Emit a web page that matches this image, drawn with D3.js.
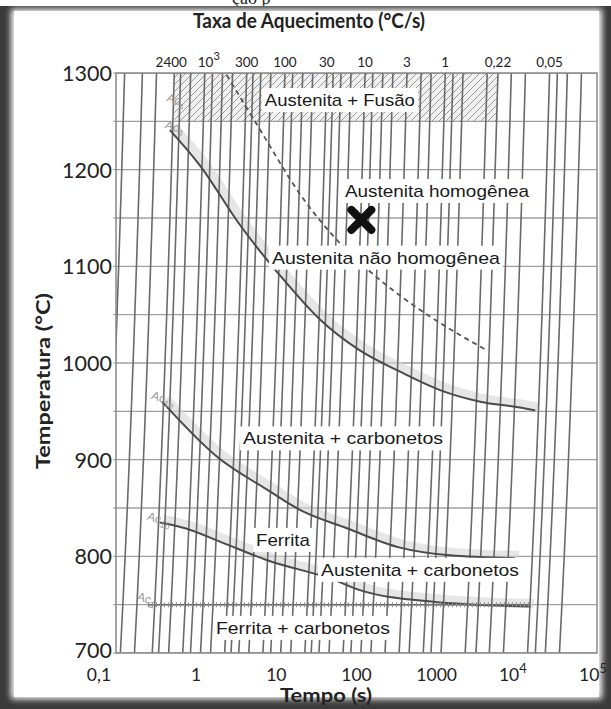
<!DOCTYPE html>
<html><head><meta charset="utf-8">
<script src="https://cdn.jsdelivr.net/npm/d3@7"></script>
<style>body{margin:0;background:#fff}svg{display:block}</style>
</head><body>
<script>
// ---------- data ----------
const yTicks = [700, 800, 900, 1000, 1100, 1200, 1300];
const yGrid = [700, 750, 800, 850, 900, 950, 1000, 1050, 1100, 1150, 1200, 1250, 1300];
const xTicks = [0.1, 1, 10, 100, 1000, 1e4, 1e5];
const xTickLabels = [["0,1", ""], ["1", ""], ["10", ""], ["100", ""], ["1000", ""], ["10", "4"], ["10", "5"]];
const topRates = [2400, 1000, 300, 100, 30, 10, 3, 1, 0.22, 0.05];
const topLabels = [["2400", ""], ["10", "3"], ["300", ""], ["100", ""], ["30", ""], ["10", ""], ["3", ""], ["1", ""], ["0,22", ""], ["0,05", ""]];
const heatingRates = [10000, 6000, 4000, 2400, 2000, 1500, 1000, 800, 600, 450, 300, 250, 200, 150, 100, 80, 60, 45, 30,
  25, 20, 15, 10, 8, 6, 4.5, 3, 2, 1.5, 1, 0.8, 0.6, 0.3, 0.22, 0.15, 0.1, 0.05, 0.04, 0.03, 0.02];
const startTemp = 20;
const fusionRates = [2400, 0.22];
const fusionTemps = [1250, 1300];
// curves: [time s, temperature C]
const acHomog = [[2.4, 1298], [6.3, 1241], [20, 1174], [62, 1124], [196, 1086], [620, 1055], [1950, 1029], [4250, 1013]];
const ac3 = [[0.47, 1241], [1.1, 1205], [3.5, 1143], [11, 1091], [35, 1045], [110, 1013], [350, 991], [1100, 972], [3500, 960], [11000, 954], [17000, 951]];
const ac1e = [[0.375, 960], [1.82, 903], [7.65, 869], [19.7, 848], [76, 829], [349, 809], [1466, 801], [9490, 798]];
const ac1b = [[0.35, 835], [0.73, 829], [2, 815], [7.7, 796], [51, 776], [110, 765], [900, 753], [14600, 748]];
const ac2 = [[0.25, 750], [14600, 750]];
const marker = [115, 1148];
const regionLabels = [
  {text: "Austenita + Fusão", t: 62, T: 1272, w: 150},
  {text: "Austenita homogênea", t: 1009, T: 1178, w: 184},
  {text: "Austenita não homogênea", t: 233, T: 1109, w: 228},
  {text: "Austenita + carbonetos", t: 68, T: 922, w: 200},
  {text: "Ferrita", t: 12.1, T: 817, w: 54},
  {text: "Austenita + carbonetos", t: 620, T: 786, w: 198},
  {text: "Ferrita + carbonetos", t: 21.5, T: 726, w: 174}
];
const acLabels = [
  {main: "Ac", sub: "s", t: 0.42, T: 1271},
  {main: "Ac", sub: "3", t: 0.40, T: 1243},
  {main: "Ac", sub: "1e", t: 0.27, T: 963},
  {main: "Ac", sub: "1b", t: 0.24, T: 838},
  {main: "Ac", sub: "2", t: 0.18, T: 755}
];

// ---------- layout ----------
const W = 611, H = 709;
const L = 116, R = 597, T0 = 73, B = 653;
const svg = d3.select("body").append("svg").attr("width", W).attr("height", H);
const defs = svg.append("defs");
const x = d3.scaleLog().domain([0.1, 1e5]).range([L, R]);
const y = d3.scaleLinear().domain([700, 1300]).range([B, T0]);

// frame
const blur = defs.append("filter").attr("id", "blur").attr("x", "-5%").attr("y", "-5%").attr("width", "110%").attr("height", "110%");
blur.append("feGaussianBlur").attr("stdDeviation", 3);
svg.append("text").attr("x", 232).attr("y", 4).attr("font-family", "Liberation Serif").attr("font-size", 18).attr("fill", "#222").text("ção p");
svg.append("rect").attr("x", 0).attr("y", 6).attr("width", W).attr("height", H - 6).attr("fill", "#3a3a3a");
svg.append("rect").attr("x", 11).attr("y", 9).attr("width", W - 20).attr("height", H - 19).attr("fill", "#fff").attr("filter", "url(#blur)");
svg.append("rect").attr("x", 14).attr("y", 11).attr("width", W - 26).attr("height", H - 23).attr("fill", "#fff");

// clip
defs.append("clipPath").attr("id", "clip").append("rect").attr("x", L).attr("y", T0).attr("width", R - L).attr("height", B - T0);
const plot = svg.append("g").attr("clip-path", "url(#clip)");

// hatch pattern
const pat = defs.append("pattern").attr("id", "hatch").attr("patternUnits", "userSpaceOnUse").attr("width", 7).attr("height", 7);
pat.append("rect").attr("width", 7).attr("height", 7).attr("fill", "#f1f1f1");
pat.append("path").attr("d", "M-1,8 L8,-1 M-1,1 L1,-1 M6,8 L8,6").attr("stroke", "#9a9a9a").attr("stroke-width", 1);
const tAt = (r, T) => (T - startTemp) / r;
plot.append("rect")
  .attr("x", x(tAt(fusionRates[0], fusionTemps[1])))
  .attr("y", y(fusionTemps[1]))
  .attr("width", x(tAt(fusionRates[1], fusionTemps[1])) - x(tAt(fusionRates[0], fusionTemps[1])))
  .attr("height", y(fusionTemps[0]) - y(fusionTemps[1]))
  .attr("fill", "url(#hatch)");

// horizontal grid
plot.selectAll(".hg").data(yGrid).join("line")
  .attr("x1", L).attr("x2", R).attr("y1", d => y(d)).attr("y2", d => y(d))
  .attr("stroke", "#a0a0a0").attr("stroke-width", 1.3);
svg.selectAll(".yt").data(yGrid).join("line")
  .attr("x1", L - 3).attr("x2", L).attr("y1", d => y(d)).attr("y2", d => y(d))
  .attr("stroke", "#999").attr("stroke-width", 1);

const line = d3.line().x(d => x(d[0])).y(d => y(d[1])).curve(d3.curveMonotoneX);

// scatter bands
[ac3, ac1e, ac1b].forEach(c => {
  plot.append("path").attr("d", line(c)).attr("fill", "none")
    .attr("stroke", "#d6d6d6").attr("stroke-width", 9).attr("opacity", 0.6)
    .attr("transform", "translate(4,-3)");
});

// heating-rate lines
const rateLine = d3.line().x(d => x(d[0])).y(d => y(d[1]));
plot.selectAll(".hr").data(heatingRates).join("path")
  .attr("d", r => rateLine(yGrid.map(T => [tAt(r, T), T])))
  .attr("fill", "none").attr("stroke", "#6a6a6a").attr("stroke-width", 1.6);

// curves
plot.append("path").attr("d", line(acHomog)).attr("fill", "none").attr("stroke", "#555").attr("stroke-width", 1.8).attr("stroke-dasharray", "5,4");
[ac3, ac1e, ac1b].forEach(c => plot.append("path").attr("d", line(c)).attr("fill", "none").attr("stroke", "#4a4a4a").attr("stroke-width", 2));
plot.append("path").attr("d", line(ac2)).attr("fill", "none").attr("stroke", "#666").attr("stroke-width", 1.5);
plot.append("path").attr("d", line(ac2)).attr("fill", "none").attr("stroke", "#8a8a8a").attr("stroke-width", 5).attr("stroke-dasharray", "1,3");

// plot border
svg.append("rect").attr("x", L).attr("y", T0).attr("width", R - L).attr("height", B - T0)
  .attr("fill", "none").attr("stroke", "#888").attr("stroke-width", 1.5);

// Ac labels
acLabels.forEach(a => {
  const t = svg.append("text").attr("transform", `translate(${x(a.t)},${y(a.T)}) rotate(18)`)
    .attr("font-family", "Liberation Sans").attr("font-size", 12).attr("fill", "#999");
  t.append("tspan").text(a.main);
  t.append("tspan").attr("font-size", 9).attr("dy", 3).text(a.sub);
});

// region labels
regionLabels.forEach(r => {
  const cx = x(r.t), cy = y(r.T);
  svg.append("rect").attr("x", cx - r.w / 2 - 3).attr("y", cy - 12).attr("width", r.w + 6).attr("height", 24).attr("fill", "#fff");
  svg.append("text").attr("x", cx).attr("y", cy + 6).attr("text-anchor", "middle")
    .attr("font-family", "Liberation Sans").attr("font-size", 17).attr("fill", "#1a1a1a")
    .attr("textLength", r.w).attr("lengthAdjust", "spacingAndGlyphs").text(r.text);
});

// marker
const mx = x(marker[0]), my = y(marker[1]);
svg.append("path").attr("d", `M${mx - 10},${my - 10}L${mx + 10},${my + 10}M${mx + 10},${my - 10}L${mx - 10},${my + 10}`)
  .attr("stroke", "#111").attr("stroke-width", 8).attr("stroke-linecap", "round");

// y tick labels
svg.selectAll(".yl").data(yTicks).join("text")
  .attr("x", L - 4).attr("y", d => y(d) + (d === 700 ? 5 : 8)).attr("text-anchor", "end")
  .attr("font-family", "Lato").attr("font-size", 21.5).attr("fill", "#222").text(d => d);

// x tick labels
xTicks.forEach((v, i) => {
  const [base, sup] = xTickLabels[i];
  const t = svg.append("text").attr("x", x(v) + (i === 0 ? -17 : (sup ? -4 : 0))).attr("y", 681)
    .attr("text-anchor", "middle").attr("font-family", "Lato").attr("font-size", 17.5).attr("fill", "#222");
  t.append("tspan").text(base);
  if (sup) t.append("tspan").attr("font-size", 13).attr("dy", -8).text(sup);
});

// top heating-rate labels
topRates.forEach((r, i) => {
  const [base, sup] = topLabels[i];
  const t = svg.append("text").attr("x", x(tAt(r, 1300)) + (i === 0 ? -3 : (sup ? 4 : 0))).attr("y", 67)
    .attr("text-anchor", "middle").attr("font-family", "Lato").attr("font-size", 13.5).attr("fill", "#222");
  t.append("tspan").text(base);
  if (sup) t.append("tspan").attr("font-size", 11).attr("dy", -7).text(sup);
});

// axis titles
svg.append("text").attr("x", 309).attr("y", 28).attr("text-anchor", "middle")
  .attr("font-family", "Lato").attr("font-weight", "bold").attr("font-size", 20).attr("fill", "#222")
  .attr("textLength", 232).attr("lengthAdjust", "spacingAndGlyphs").text("Taxa de Aquecimento (°C/s)");
svg.append("text").attr("transform", "translate(50,381) rotate(-90)").attr("text-anchor", "middle")
  .attr("font-family", "Lato").attr("font-weight", "bold").attr("font-size", 19).attr("fill", "#222")
  .attr("textLength", 176).attr("lengthAdjust", "spacingAndGlyphs").text("Temperatura (°C)");
svg.append("text").attr("x", 326).attr("y", 702).attr("text-anchor", "middle")
  .attr("font-family", "Lato").attr("font-weight", "bold").attr("font-size", 19).attr("fill", "#222")
  .attr("textLength", 92).attr("lengthAdjust", "spacingAndGlyphs").text("Tempo (s)");
</script>
</body></html>
